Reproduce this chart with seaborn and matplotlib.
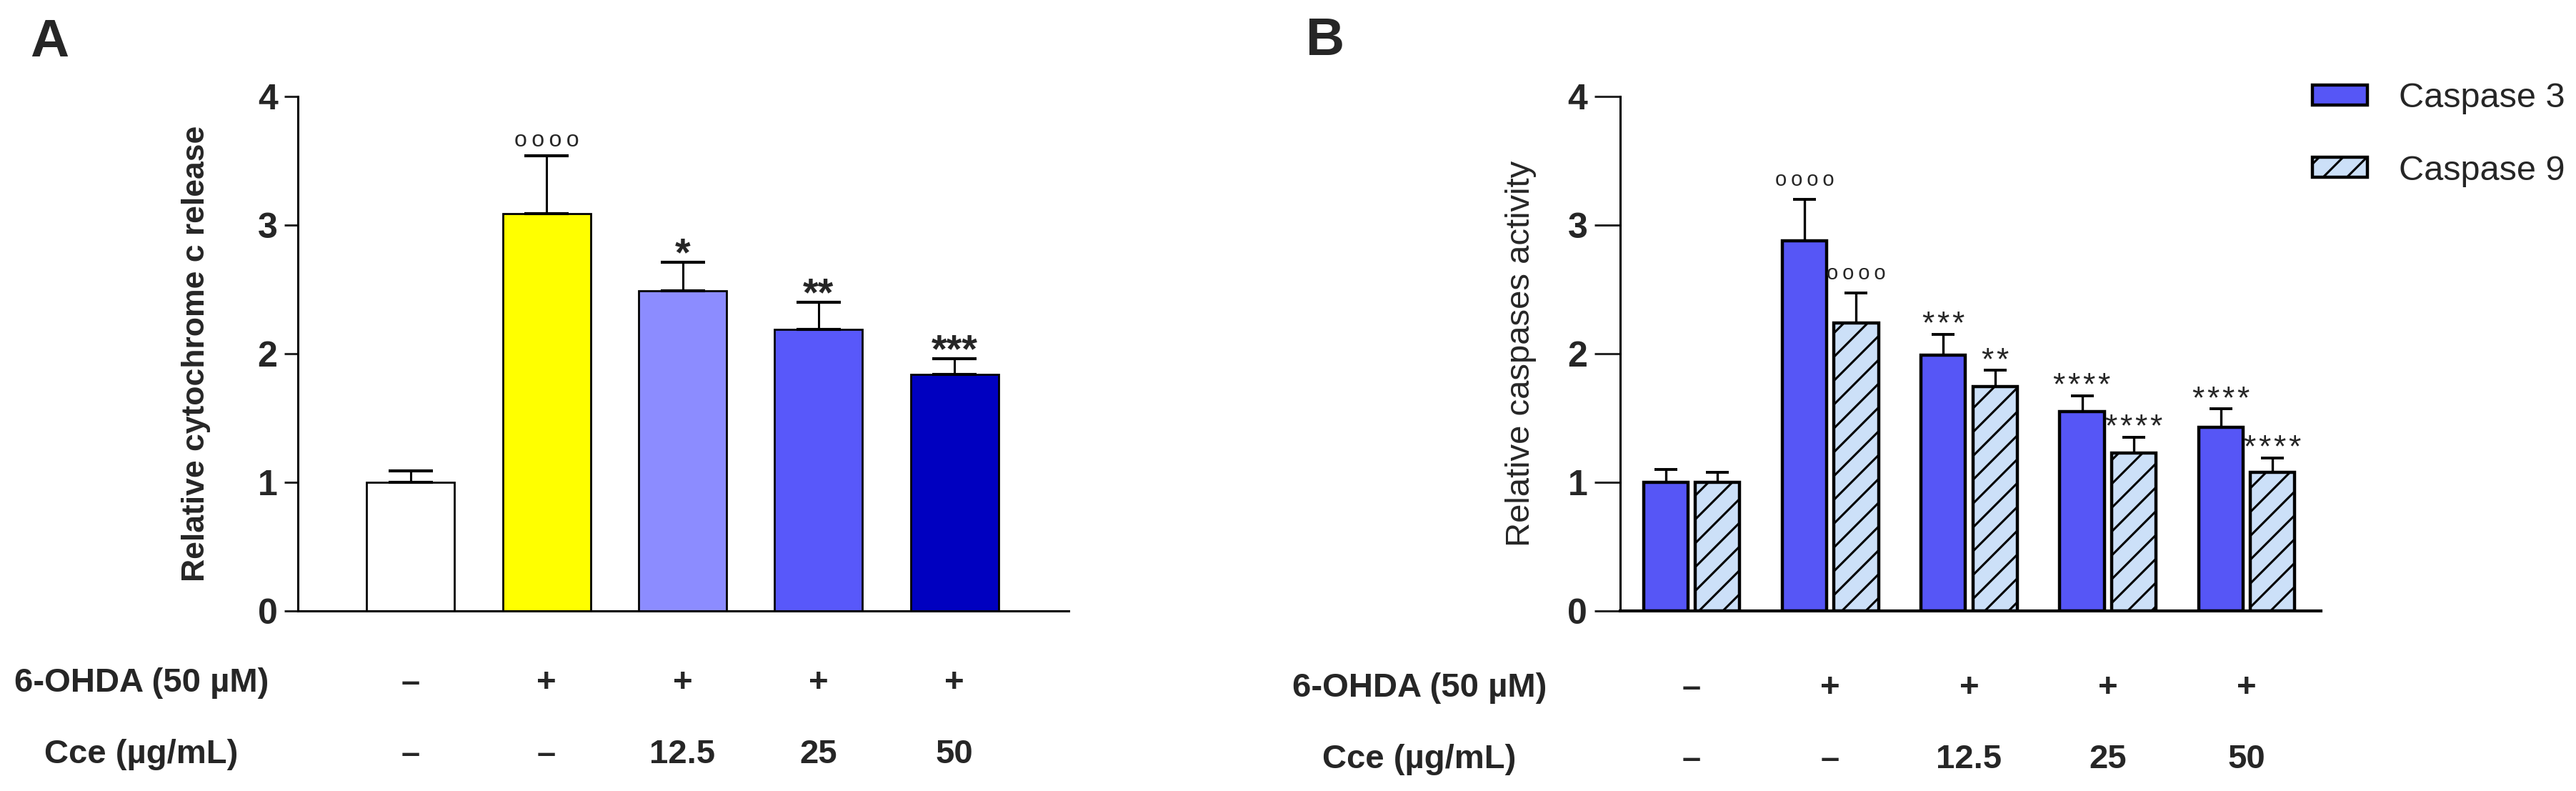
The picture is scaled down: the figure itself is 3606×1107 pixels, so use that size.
import numpy as np
import pandas as pd
import matplotlib
matplotlib.use("Agg")
import matplotlib.pyplot as plt
import seaborn as sns

sns.set_style("white")
plt.rcParams['font.family'] = ['Liberation Sans', 'DejaVu Sans']
plt.rcParams['hatch.linewidth'] = 2.2

# ---- data, panel A ----
a_groups = ['Control', '6-OHDA', 'Cce 12.5', 'Cce 25', 'Cce 50']
a_values = [1.0, 3.09, 2.49, 2.19, 1.84]
a_err = [0.09, 0.45, 0.22, 0.21, 0.12]
a_marks = ['', 'oooo', '*', '**', '***']
a_colors = ['#FFFFFF', '#FFFF00', '#8C8CFF', '#5858FA', '#0000C0']

# ---- data, panel B ----
b_groups = ['Control', '6-OHDA', 'Cce 12.5', 'Cce 25', 'Cce 50']
casp3 = [1.0, 2.88, 1.99, 1.55, 1.43]
casp3_err = [0.10, 0.32, 0.16, 0.125, 0.14]
casp9 = [1.0, 2.24, 1.745, 1.23, 1.08]
casp9_err = [0.08, 0.23, 0.125, 0.12, 0.11]
casp3_marks = ['', 'oooo', '***', '****', '****']
casp9_marks = ['', 'oooo', '**', '****', '****']
casp_colors = ['#5656F6', '#CCE0F8']

ohda_row = ['–', '+', '+', '+', '+']
cce_row = ['–', '–', '12.5', '25', '50']

W, H = 3606, 1107
fig = plt.figure(figsize=(W / 100, H / 100), dpi=100)


def fx(px):
    return px / W


def fy(py):
    return 1 - py / H


def mark(ax, x, y, text, weight, size, off, sep):
    ax.annotate(sep.join(text), xy=(x, y), xytext=(0, off),
                textcoords='offset points', ha='center', va='baseline',
                fontsize=size, fontweight=weight, clip_on=False)


# ================= Panel A =================
axA = fig.add_axes([fx(417), fy(855), fx(1496) - fx(417), fy(135) - fy(855)])
sns.barplot(x=a_groups, y=a_values, hue=a_groups, palette=a_colors, width=0.646,
            saturation=1, edgecolor='black', linewidth=2.0, errorbar=None,
            legend=False, ax=axA)
axA.errorbar(x=np.arange(len(a_groups)), y=a_values,
             yerr=[np.zeros(len(a_err)), a_err], fmt='none', ecolor='black',
             elinewidth=2.2, capsize=22.5, capthick=3.0)
axA.set_ylim(0, 4)
axA.set_xlim(-0.83, 4.84)
axA.set_yticks([0, 1, 2, 3, 4])
axA.set_xticks([])
axA.tick_params(axis='y', direction='out', length=13.5, width=2.2, pad=7,
                labelsize=36, left=True)
for t in axA.get_yticklabels():
    t.set_fontweight('bold')
for s in ['top', 'right']:
    axA.spines[s].set_visible(False)
for s in ['left', 'bottom']:
    axA.spines[s].set_linewidth(2.2)
    axA.spines[s].set_color('black')
axA.set_ylabel('Relative cytochrome c release', fontsize=32, fontweight='bold',
               labelpad=47)
axA.set_xlabel('')

for i, (v, e, m) in enumerate(zip(a_values, a_err, a_marks)):
    if not m:
        continue
    if m.startswith('o'):
        mark(axA, i, v + e, m, 'normal', 23, 9, '\u2009')
    else:
        mark(axA, i, v + e, m, 'bold', 40, -3, '')

blendA = matplotlib.transforms.blended_transform_factory(axA.transData, fig.transFigure)
for i, (s1, s2) in enumerate(zip(ohda_row, cce_row)):
    axA.text(i, fy(968), s1, transform=blendA, ha='center', va='baseline',
             fontsize=34, fontweight='bold')
    axA.text(i, fy(1068), s2, transform=blendA, ha='center', va='baseline',
             fontsize=34, fontweight='bold')
fig.text(fx(198), fy(968), '6-OHDA (50 µM)', ha='center', va='baseline',
         fontsize=34, fontweight='bold')
fig.text(fx(198), fy(1068), 'Cce (µg/mL)', ha='center', va='baseline',
         fontsize=34, fontweight='bold')
fig.text(fx(42), fy(79), 'A', ha='left', va='baseline', fontsize=54,
         fontweight='bold')

# ================= Panel B =================
axB = fig.add_axes([fx(2268), fy(855), fx(3249) - fx(2268), fy(135) - fy(855)])
dfB = pd.DataFrame({
    'group': b_groups * 2,
    'value': casp3 + casp9,
    'casp': ['Caspase 3'] * len(casp3) + ['Caspase 9'] * len(casp9),
})
sns.barplot(data=dfB, x='group', y='value', hue='casp', palette=casp_colors,
            width=0.745, gap=0.14, saturation=1, edgecolor='black', linewidth=3.2,
            errorbar=None, legend=False, ax=axB)
for p in axB.containers[1]:
    p.set_hatch('/')

for cont, errs, vals, marks in [(axB.containers[0], casp3_err, casp3, casp3_marks),
                                (axB.containers[1], casp9_err, casp9, casp9_marks)]:
    xs = [p.get_x() + p.get_width() / 2 for p in cont]
    axB.errorbar(x=xs, y=vals, yerr=[np.zeros(len(errs)), errs], fmt='none',
                 ecolor='black', elinewidth=2.4, capsize=11.5, capthick=2.8)
    for x, v, e, m in zip(xs, vals, errs, marks):
        if not m:
            continue
        if m.startswith('o'):
            mark(axB, x, v + e, m, 'normal', 21, 14, '\u2009')
        else:
            mark(axB, x, v + e, m, 'normal', 32, 0.5, '\u200a')

axB.set_ylim(0, 4)
axB.set_xlim(-0.515, 4.536)
axB.set_yticks([0, 1, 2, 3, 4])
axB.set_xticks([])
axB.tick_params(axis='y', direction='out', length=26, width=2.2, pad=7,
                labelsize=36, left=True)
for t in axB.get_yticklabels():
    t.set_fontweight('bold')
for s in ['top', 'right']:
    axB.spines[s].set_visible(False)
axB.spines['left'].set_linewidth(2.2)
axB.spines['bottom'].set_linewidth(3.0)
for s in ['left', 'bottom']:
    axB.spines[s].set_color('black')
axB.set_ylabel('Relative caspases activity', fontsize=34, labelpad=31)
axB.set_xlabel('')

blendB = matplotlib.transforms.blended_transform_factory(axB.transData, fig.transFigure)
for i, (s1, s2) in enumerate(zip(ohda_row, cce_row)):
    axB.text(i, fy(975), s1, transform=blendB, ha='center', va='baseline',
             fontsize=34, fontweight='bold')
    axB.text(i, fy(1075), s2, transform=blendB, ha='center', va='baseline',
             fontsize=34, fontweight='bold')
fig.text(fx(1987), fy(975), '6-OHDA (50 µM)', ha='center', va='baseline',
         fontsize=34, fontweight='bold')
fig.text(fx(1987), fy(1075), 'Cce (µg/mL)', ha='center', va='baseline',
         fontsize=34, fontweight='bold')
fig.text(fx(1828), fy(77), 'B', ha='left', va='baseline', fontsize=54,
         fontweight='bold')

axB.legend(handles=[axB.containers[0][0], axB.containers[1][0]],
           labels=['Caspase 3', 'Caspase 9'], loc='center left',
           bbox_to_anchor=(fx(3237), fy(188.5)), bbox_transform=fig.transFigure,
           frameon=False, fontsize=35, handlelength=1.58, handleheight=0.51,
           handletextpad=0.9, labelspacing=1.16, borderpad=0, borderaxespad=0)

fig.savefig('out.png', dpi=100)
